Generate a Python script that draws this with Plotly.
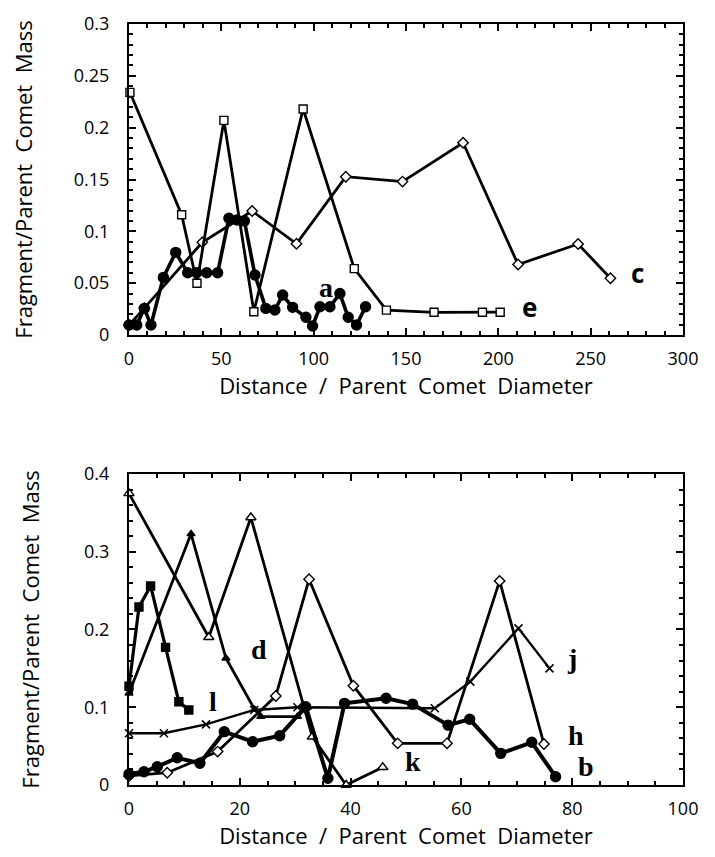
import plotly.graph_objects as go

# top panel
a_x = [0, 4.2, 8.3, 11.9, 18.6, 25.3, 31.8, 36.6, 42.1, 48, 54.1, 58.5, 62.5, 68.2,
       74.1, 79.0, 83.2, 88.6, 95.8, 99.4, 103.4, 108.8, 114.2, 118.7, 123.2, 128.1]
a_y = [0.0096, 0.0096, 0.0257, 0.0096, 0.0556, 0.0797, 0.060, 0.060, 0.060, 0.060, 0.1126,
       0.111, 0.110, 0.0579, 0.0257, 0.0241, 0.0386, 0.0267, 0.0171, 0.0087, 0.0273, 0.0273,
       0.040, 0.0171, 0.0096, 0.0273]
c_x = [0, 8.3, 39.7, 66.7, 90.7, 117.4, 148.1, 180.9, 210.7, 243.2, 260.7]
c_y = [0.0096, 0.026, 0.0894, 0.1196, 0.088, 0.1527, 0.148, 0.1855, 0.068, 0.0878, 0.0547]
e_x = [0.5, 28.5, 36.8, 51.4, 67.6, 94.3, 122, 139.4, 165.2, 191.4, 201]
e_y = [0.234, 0.116, 0.050, 0.207, 0.0225, 0.218, 0.064, 0.024, 0.0219, 0.022, 0.022]

# bottom panel
b_x = [0, 2.7, 5.1, 8.7, 12.8, 17.2, 22.3, 27.2, 31.9, 35.9, 38.9, 46.4, 51.2, 57.6,
       61.5, 67.1, 72.7, 77]
b_y = [0.014, 0.017, 0.0235, 0.035, 0.028, 0.0686, 0.0557, 0.0634, 0.1007, 0.0086, 0.105,
       0.1115, 0.104, 0.077, 0.0845, 0.0407, 0.0549, 0.0107]
d_x = [0, 11.2, 17.5, 22.7, 23.8, 30.4, 32.2]
d_y = [0.118, 0.323, 0.163, 0.097, 0.088, 0.088, 0.1]
h_x = [0, 6.9, 16, 26.5, 32.5, 40.5, 48.5, 57.4, 66.9, 74.9]
h_y = [0.0116, 0.0158, 0.043, 0.1145, 0.2646, 0.1277, 0.0536, 0.0536, 0.2625, 0.0527]
j_x = [0, 6.3, 13.9, 22.6, 30.4, 55.2, 61.6, 70.3, 75.9]
j_y = [0.0665, 0.0665, 0.078, 0.0965, 0.1, 0.0987, 0.133, 0.2015, 0.150]
k_x = [0, 14.4, 22.0, 33.1, 39.2, 45.8]
k_y = [0.375, 0.19, 0.344, 0.062, 0.0, 0.0228]
l_x = [0, 1.8, 3.9, 6.6, 9.0, 10.8]
l_y = [0.127, 0.229, 0.256, 0.177, 0.107, 0.0965]

fig = go.Figure()


def add(x, y, symbol, size, width, fill, xa, ya, mlw=1.4):
    fig.add_trace(go.Scatter(
        x=x, y=y, mode="lines+markers", xaxis=xa, yaxis=ya,
        line=dict(color="black", width=width),
        marker=dict(symbol=symbol, size=size, color=fill,
                    line=dict(color="black", width=mlw)),
        cliponaxis=False, hoverinfo="skip"))


add(c_x, c_y, "diamond", 8, 2.8, "white", "x", "y")
add(e_x, e_y, "square", 8, 2.8, "white", "x", "y")
add(a_x, a_y, "circle", 10, 3.6, "black", "x", "y")

add(k_x, k_y, "triangle-up", 9, 2.8, "white", "x2", "y2")
add(d_x, d_y, "triangle-up", 7, 2.8, "black", "x2", "y2")
add(h_x, h_y, "diamond", 8, 2.8, "white", "x2", "y2")
add(j_x, j_y, "x-thin", 8, 2.4, "black", "x2", "y2", 1.6)
add(l_x, l_y, "square", 8, 3.2, "black", "x2", "y2")
add(b_x, b_y, "circle", 10, 4.0, "black", "x2", "y2")

serif = dict(family="Liberation Serif", size=28, color="black")
sans = dict(family="Open Sans", size=26, color="black")
labels = [
    ("a", 101.6, 0.046, "x", "y", serif),
    ("c", 271, 0.0595, "x", "y", sans),
    ("e", 212, 0.027, "x", "y", sans),
    ("d", 21.7, 0.174, "x2", "y2", serif),
    ("l", 14.0, 0.107, "x2", "y2", serif),
    ("j", 78.7, 0.163, "x2", "y2", serif),
    ("h", 78.8, 0.064, "x2", "y2", serif),
    ("b", 80.7, 0.024, "x2", "y2", serif),
    ("k", 49.4, 0.030, "x2", "y2", serif),
]
for t, x, y, xa, ya, f in labels:
    fig.add_annotation(text="<b>%s</b>" % t, x=x, y=y, xref=xa, yref=ya, showarrow=False,
                       xanchor="left", yanchor="middle", font=f)

tickfont = dict(family="Open Sans", size=18, color="black")
titlefont = dict(family="Open Sans", size=22, color="black")
common = dict(showgrid=False, zeroline=False, showline=True, linecolor="black", linewidth=2,
              mirror="allticks", ticks="inside", ticklen=7, tickwidth=1.5, tickcolor="black",
              tickfont=tickfont, automargin=False)
xcommon = dict(ticklabelstandoff=6, **common)
ycommon = dict(ticklabelstandoff=14, **common)

# page body has an 8px margin, so the figure is 8px smaller than the window
fig.update_layout(
    width=707, height=849, plot_bgcolor="white", paper_bgcolor="white",
    showlegend=False, margin=dict(l=121, r=32, t=16, b=72),
    xaxis=dict(range=[0, 300], dtick=50, anchor="y",
               title=dict(text="Distance  /  Parent  Comet  Diameter", font=titlefont, standoff=10),
               minor=dict(dtick=10, ticks="inside", ticklen=4, tickcolor="black"), **xcommon),
    yaxis=dict(domain=[0.5913, 1.0], range=[0, 0.3], dtick=0.05, anchor="x",
               title=dict(text="Fragment/Parent  Comet  Mass", font=titlefont, standoff=38),
               minor=dict(dtick=0.01, ticks="inside", ticklen=4, tickcolor="black"), **ycommon),
    xaxis2=dict(range=[0, 100], dtick=20, anchor="y2",
                title=dict(text="Distance  /  Parent  Comet  Diameter", font=titlefont, standoff=10),
                minor=dict(dtick=5, ticks="inside", ticklen=4, tickcolor="black"), **xcommon),
    yaxis2=dict(domain=[0.0, 0.4087], range=[0, 0.4], dtick=0.1, anchor="x2",
                title=dict(text="Fragment/Parent  Comet  Mass", font=titlefont, standoff=38),
                minor=dict(dtick=0.02, ticks="inside", ticklen=4, tickcolor="black"), **ycommon),
)

fig.write_html("out.html")
